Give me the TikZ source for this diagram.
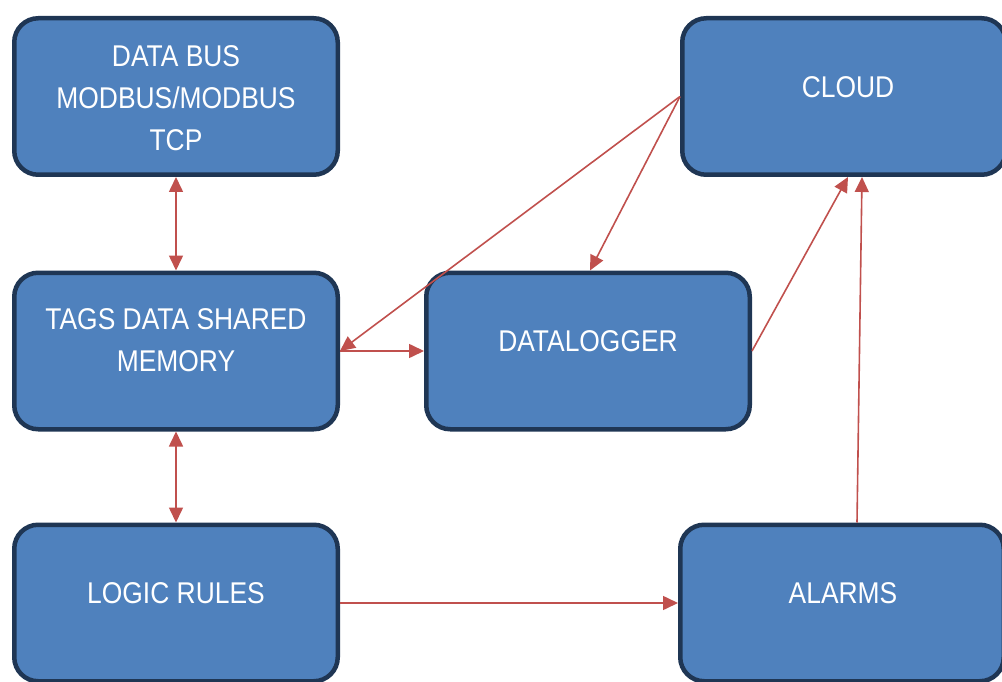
\documentclass[tikz,border=0pt]{standalone}
\usepackage{fontspec}
\setmainfont[FakeStretch=0.88]{Liberation Sans}
\usetikzlibrary{arrows.meta,positioning}
\definecolor{boxfill}{RGB}{79,129,189}
\definecolor{boxline}{RGB}{31,54,84}
\definecolor{linkred}{RGB}{192,80,77}

\begin{document}
\begin{tikzpicture}
        [x=1pt, y=-1pt,
          box/.style={draw=boxline, fill=boxfill, line width=4.5pt, rounded corners=24pt,
            minimum width=323.5pt, minimum height=156.5pt},
          boxtext/.style={text=white, align=center, font=\fontsize{30}{42}\selectfont},
          link/.style={draw=linkred, line width=1.6pt, -{Triangle[length=15pt,width=14pt]}},
          both/.style={link, {Triangle[length=15pt,width=14pt]}-{Triangle[length=15pt,width=14pt]}}]
        \useasboundingbox (0,0) rectangle (1002,682);
        % boxes
        \node[box] (databus) at (176,96.5) {};
        \node[box] (cloud) at (844,96.5) {};
        \node[box] (tags) at (176,351) {};
        \node[box] (logger) at (588,351) {};
        \node[box] (logic) at (176,603) {};
        \node[box] (alarms) at (842,603) {};
        % texts
        \node[boxtext] (databustxt) at ([yshift=-2]databus.center) {DATA BUS\\MODBUS/MODBUS\\TCP};
        \node[boxtext] (cloudtxt) at ([xshift=4,yshift=9.5]cloud.center) {CLOUD};
        \node[boxtext] (tagstxt) at ([yshift=10.5]tags.center) {TAGS DATA SHARED\\MEMORY};
        \node[boxtext] (loggertxt) at ([yshift=10]logger.center) {DATALOGGER};
        \node[boxtext] (logictxt) at ([yshift=10]logic.center) {LOGIC RULES};
        \node[boxtext] (alarmstxt) at ([xshift=1,yshift=10]alarms.center) {ALARMS};
        % links
        \draw[both] (databus.south) -- (tags.north);
        \draw[both] (tags.south) -- (logic.north);
        \draw[link] (tags.east) -- (logger.west);
        \draw[link] (logic.east) -- (alarms.west);
        \draw[link] (cloud.west) -- (tags.east);
        \draw[link] (cloud.west) -- ([xshift=2]logger.north);
        \draw[link] (logger.east) -- ([xshift=4]cloud.south);
        \draw[link] ([xshift=15]alarms.north) -- ([xshift=18]cloud.south);
\end{tikzpicture}
\end{document}
